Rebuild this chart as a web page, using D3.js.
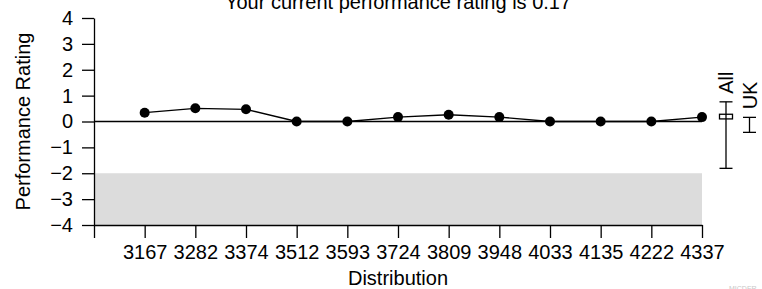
<!DOCTYPE html>
<html><head><meta charset="utf-8">
<script src="https://cdn.jsdelivr.net/npm/d3@7/dist/d3.min.js"></script>
<style>
html,body{margin:0;padding:0;background:#fff;}
svg{display:block;font-family:"Liberation Sans",Arial,Helvetica,sans-serif;}
</style></head>
<body><svg id="c" width="762" height="289"></svg>
<script>
const categories = ["3167","3282","3374","3512","3593","3724","3809","3948","4033","4135","4222","4337"];
const ratings = [0.34,0.51,0.47,0,0,0.17,0.26,0.17,0,0,0,0.17];
const yTicks = [-4,-3,-2,-1,0,1,2,3,4];
const bandRange = [-4,-2];
const groupLabels = ["All","UK"];
const groupLow = [-1.81,-0.42];
const groupHigh = [0.76,0.16];
const allBox = [0.10,0.28];
const currentRating = 0.17;

const svg = d3.select("#c");
const x = d3.scaleLinear().domain([0, categories.length]).range([94, 702]);
const y = d3.scaleLinear().domain([-4, 4]).range([225, 18]);
const FS = 20;

// grey band
svg.append("rect")
  .attr("x", x(0)).attr("width", x(categories.length) - x(0))
  .attr("y", y(bandRange[1])).attr("height", y(bandRange[0]) - y(bandRange[1]))
  .attr("fill", "#dcdcdc");

// zero line
svg.append("line")
  .attr("x1", x(0)).attr("x2", x(categories.length))
  .attr("y1", y(0)).attr("y2", y(0))
  .attr("stroke", "#000").attr("stroke-width", 1.3);

// y axis
const ya = svg.append("g").attr("transform", `translate(${x(0)},0)`)
  .call(d3.axisLeft(y).tickValues(yTicks).tickSize(12).tickSizeOuter(0).tickPadding(9).tickFormat(d3.format("d")));
// x axis
const xa = svg.append("g").attr("transform", `translate(0,${y(-4)})`)
  .call(d3.axisBottom(x).ticks(categories.length).tickValues(d3.range(0, categories.length + 1))
    .tickSize(13).tickSizeOuter(0).tickPadding(7)
    .tickFormat(i => i === 0 ? "" : categories[i - 1]));
[ya, xa].forEach(g => {
  g.selectAll("path,line").attr("stroke", "#000").attr("stroke-width", 1.3);
  g.selectAll("text").attr("font-size", FS).attr("fill", "#000")
    .attr("font-family", '"Liberation Sans",Arial,sans-serif');
});

// line + points
const pts = ratings.map((v, i) => [i + 1, v]);
svg.append("path").datum(pts)
  .attr("d", d3.line().x(d => x(d[0])).y(d => y(d[1])))
  .attr("fill", "none").attr("stroke", "#000").attr("stroke-width", 1.3);
svg.selectAll("circle.p").data(pts).join("circle")
  .attr("cx", d => x(d[0])).attr("cy", d => y(d[1])).attr("r", 5).attr("fill", "#000");

// error bars on the right
const gx = [726, 749.5];
groupLabels.forEach((lab, i) => {
  const cx = gx[i];
  const g = svg.append("g").attr("stroke", "#000").attr("stroke-width", 1.3);
  g.append("line").attr("x1", cx).attr("x2", cx).attr("y1", y(groupHigh[i])).attr("y2", y(groupLow[i]));
  [groupHigh[i], groupLow[i]].forEach(v =>
    g.append("line").attr("x1", cx - 6.5).attr("x2", cx + 6.5).attr("y1", y(v)).attr("y2", y(v)));
  svg.append("text").text(lab)
    .attr("transform", `translate(${cx + 7},${y(groupHigh[i]) - 8}) rotate(-90)`)
    .attr("font-size", FS).attr("fill", "#000");
});
svg.append("rect")
  .attr("x", gx[0] - 6.5).attr("width", 13)
  .attr("y", y(allBox[1])).attr("height", y(allBox[0]) - y(allBox[1]))
  .attr("fill", "none").attr("stroke", "#000").attr("stroke-width", 1.3);

// titles
svg.append("text").text("Your current performance rating is " + currentRating)
  .attr("x", (x(0) + x(categories.length)) / 2).attr("y", 9)
  .attr("text-anchor", "middle").attr("font-size", FS).attr("fill", "#000");
svg.append("text").text("Distribution")
  .attr("x", (x(0) + x(categories.length)) / 2).attr("y", 285)
  .attr("text-anchor", "middle").attr("font-size", FS).attr("fill", "#000");
svg.append("text").text("Performance Rating")
  .attr("transform", `translate(30,${y(0)}) rotate(-90)`)
  .attr("text-anchor", "middle").attr("font-size", FS).attr("fill", "#000");
svg.append("text").text("MICDER")
  .attr("x", 729).attr("y", 291).attr("font-size", 7).attr("fill", "#c8c8c8");
</script></body></html>
